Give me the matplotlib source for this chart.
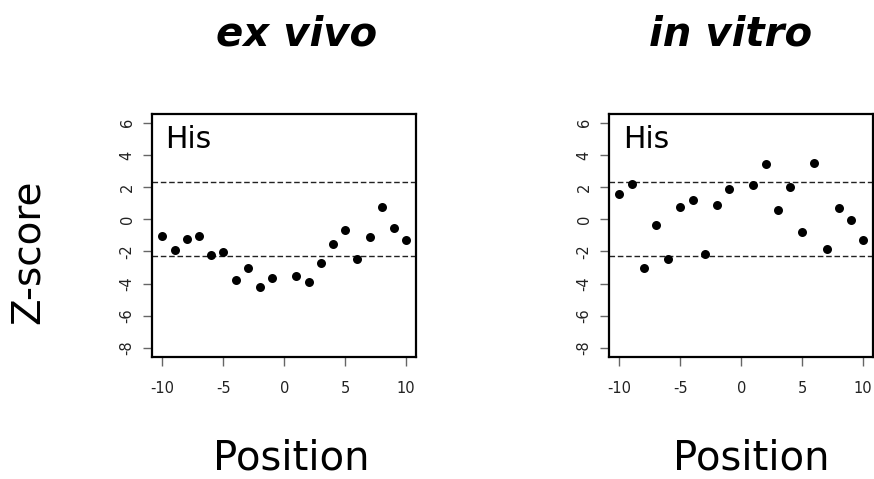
import matplotlib
matplotlib.use("Agg")
import matplotlib.pyplot as plt
import numpy as np

positions = [-10, -9, -8, -7, -6, -5, -4, -3, -2, -1, 1, 2, 3, 4, 5, 6, 7, 8, 9, 10]
ex_vivo = [-1.01, -1.92, -1.22, -1.03, -2.23, -2.05, -3.80, -3.06, -4.24, -3.66,
           -3.54, -3.89, -2.73, -1.53, -0.64, -2.46, -1.12, 0.74, -0.52, -1.30]
in_vitro = [1.57, 2.17, -3.02, -0.37, -2.48, 0.79, 1.22, -2.15, 0.91, 1.86,
            2.13, 3.41, 0.58, 1.99, -0.79, 3.47, -1.84, 0.68, -0.04, -1.28]
threshold = 2.3
titles = ["ex vivo", "in vitro"]
panel_label = "His"
xticks = [-10, -5, 0, 5, 10]
yticks = [-8, -6, -4, -2, 0, 2, 4, 6]

W, H = 874, 479
fig = plt.figure(figsize=(W / 100, H / 100), dpi=100)

def ax_rect(l, t, r, b):
    return [l / W, 1 - b / H, (r - l) / W, (b - t) / H]

rects = [ax_rect(152, 114, 416, 357), ax_rect(609, 114, 873, 357)]
data = [ex_vivo, in_vitro]
title_x = [297, 731]
pos_x = [291, 751]
his_x = [0.049, 0.054]

for i in range(2):
    ax = fig.add_axes(rects[i])
    ax.scatter(positions, data[i], s=42, color="black", zorder=3, linewidths=0)
    for yv in (threshold, -threshold):
        ax.axhline(yv, color="#222222", lw=1.0, ls=(0, (4, 2)), zorder=2)
    ax.set_xlim(-10.85, 10.8)
    ax.set_ylim(-8.56, 6.54)
    ax.set_xticks(xticks)
    ax.set_yticks(yticks)
    ax.set_xticklabels([str(v) for v in xticks], fontsize=10.5, color="#222222")
    ax.set_yticklabels([str(v) for v in yticks], fontsize=10.5, color="#222222",
                       rotation=90, va="center")
    ax.tick_params(axis="both", direction="out", length=6.5, width=1.0, color="#666666")
    ax.tick_params(axis="x", pad=11)
    ax.tick_params(axis="y", pad=6)
    for sp in ax.spines.values():
        sp.set_linewidth(1.6)
        sp.set_color("black")
    ax.text(his_x[i], 0.86, panel_label, transform=ax.transAxes, fontsize=21.5,
            ha="left", va="baseline")
    fig.text(title_x[i] / W, 1 - 45 / H, titles[i], fontsize=29, fontweight="bold",
             fontstyle="italic", ha="center", va="baseline")
    fig.text(pos_x[i] / W, 1 - 469 / H, "Position", fontsize=29,
             ha="center", va="baseline")

fig.text(28 / W, 1 - 252 / H, "Z-score", fontsize=28, rotation=90,
         ha="center", va="center")

fig.savefig("out.png", dpi=100)
